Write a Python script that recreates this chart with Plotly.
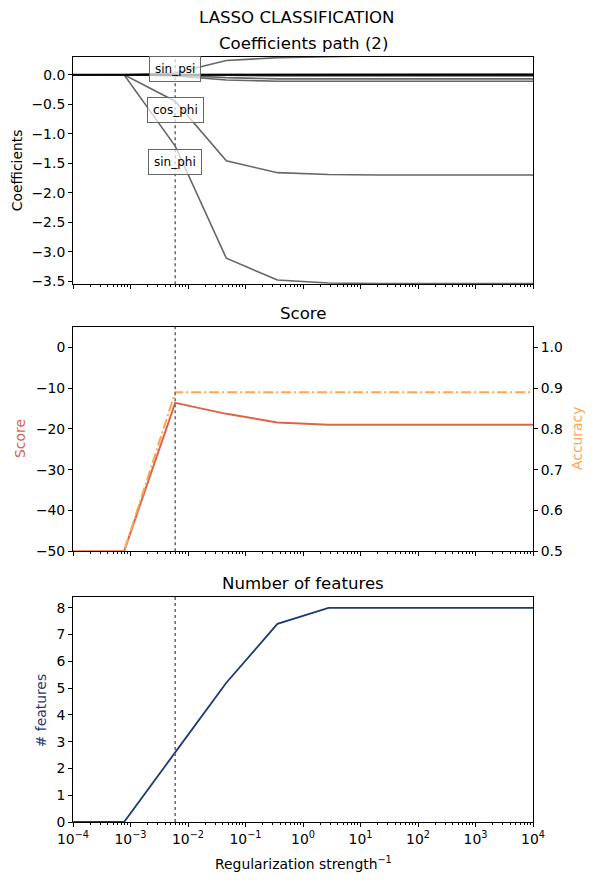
import numpy as np
import plotly.graph_objects as go
from plotly.subplots import make_subplots

# inverse regularization strengths (C) of the path
c_values = [1e-4, 7.74e-4, 5.99e-3, 4.64e-2, 0.359, 2.78, 21.5, 167.0, 1292.0, 1e4]
best_idx = 2

# coefficient paths, one per feature
coef_names = ["sin_phi", "cos_phi", "sin_psi", "cos_psi", "sin_chi", "cos_chi", "sin_omega", "cos_omega"]
coef_paths = [
    [0, 0, -1.21, -3.11, -3.48, -3.53, -3.54, -3.54, -3.54, -3.54],
    [0, 0, -0.45, -1.46, -1.66, -1.69, -1.70, -1.70, -1.70, -1.70],
    [0, 0, 0.03, 0.24, 0.29, 0.31, 0.32, 0.32, 0.32, 0.32],
    [0, 0, -0.02, -0.09, -0.11, -0.11, -0.11, -0.11, -0.11, -0.11],
    [0, 0, -0.01, -0.05, -0.07, -0.07, -0.07, -0.07, -0.07, -0.07],
    [0, 0, 0.0, -0.01, -0.02, -0.02, -0.02, -0.02, -0.02, -0.02],
    [0, 0, 0.0, 0.0, 0.01, 0.01, 0.01, 0.01, 0.01, 0.01],
    [0, 0, 0.0, 0.0, 0.0, -0.01, -0.01, -0.01, -0.01, -0.01],
]
# labelled features and where their labels sit
label_names = ["sin_psi", "cos_phi", "sin_phi"]
label_y = [0.09, -0.59, -1.48]

# CV score and accuracy
score = [-50, -50, -13.6, -16.3, -18.4, -19.0, -19.0, -19.0, -19.0, -19.0]
accuracy = [0.5, 0.5, 0.89, 0.89, 0.89, 0.89, 0.89, 0.89, 0.89, 0.89]

# number of non-zero features
n_features = [0, 0, 2.6, 5.2, 7.4, 8.0, 8.0, 8.0, 8.0, 8.0]

tick_vals = [1e-4, 1e-3, 1e-2, 1e-1, 1e0, 1e1, 1e2, 1e3, 1e4]
tick_text = ["10<sup>\u22124</sup>", "10<sup>\u22123</sup>", "10<sup>\u22122</sup>", "10<sup>\u22121</sup>",
             "10<sup>0</sup>", "10<sup>1</sup>", "10<sup>2</sup>", "10<sup>3</sup>", "10<sup>4</sup>"]

GRAY = "rgba(64,64,64,0.8)"
SCORE_C = "#dc6449"
ACC_C = "#ffa552"
FEAT_C = "#1f3a72"
FONT = "DejaVu Sans"
FS = 13.9
TITLE_FS = 16.6

best_c = c_values[best_idx]

fig = make_subplots(rows=3, cols=1, shared_xaxes=True,
                    specs=[[{}], [{"secondary_y": True}], [{}]])

for name, path in zip(coef_names, coef_paths):
    fig.add_trace(go.Scatter(x=c_values, y=path, mode="lines", name=name,
                             line=dict(color=GRAY, width=1.6)), row=1, col=1)

fig.add_trace(go.Scatter(x=c_values, y=score, mode="lines", name="Score",
                         line=dict(color=SCORE_C, width=2)), row=2, col=1, secondary_y=False)
fig.add_trace(go.Scatter(x=c_values, y=accuracy, mode="lines", name="Accuracy",
                         line=dict(color=ACC_C, width=2, dash="10px,3px,2px,3px")),
              row=2, col=1, secondary_y=True)

fig.add_trace(go.Scatter(x=c_values, y=n_features, mode="lines", name="# features",
                         line=dict(color=FEAT_C, width=1.8)), row=3, col=1)

# zero line in the coefficient panel
fig.add_shape(type="line", xref="x domain", yref="y", x0=0, x1=1, y0=0, y1=0,
              line=dict(color="black", width=2))

# best C marker on every panel
for xr, yr in [("x", "y domain"), ("x2", "y2 domain"), ("x3", "y4 domain")]:
    fig.add_shape(type="line", xref=xr, yref=yr, x0=best_c, x1=best_c, y0=0, y1=1,
                  line=dict(color="#707070", width=1.6, dash="dot"))

for name, ly in zip(label_names, label_y):
    fig.add_annotation(x=np.log10(best_c), y=ly, xref="x", yref="y", text=name,
                       showarrow=False, font=dict(size=12, color="black", family=FONT),
                       bgcolor="rgba(255,255,255,0.7)", bordercolor="#666666",
                       borderwidth=1, borderpad=5)

# titles
titles = [("LASSO CLASSIFICATION", 0.487, 1.052), ("Coefficients path (2)", 0.5, 1.017),
          ("Score", 0.5, 0.665), ("Number of features", 0.5, 0.312)]
for text, tx, ty in titles:
    fig.add_annotation(x=tx, y=ty, xref="paper", yref="paper", text=text, showarrow=False,
                       xanchor="center", yanchor="middle",
                       font=dict(size=TITLE_FS, color="black", family=FONT))

# axis titles
axis_titles = [("Coefficients", "black", -0.1217, 0.852), ("Score", SCORE_C, -0.1152, 0.5007),
               ("Accuracy", ACC_C, 1.0957, 0.5007), ("# features", FEAT_C, -0.0696, 0.146)]
for text, col, tx, ty in axis_titles:
    fig.add_annotation(x=tx, y=ty, xref="paper", yref="paper", text=text, showarrow=False,
                       textangle=-90, xanchor="center", yanchor="middle",
                       font=dict(size=FS, color=col, family=FONT))
fig.add_annotation(x=0.5, y=-0.0536, xref="paper", yref="paper",
                   text="Regularization strength<sup>\u22121</sup>", showarrow=False,
                   xanchor="center", yanchor="middle", font=dict(size=FS, color="black", family=FONT))

axis_common = dict(showline=True, linecolor="black", linewidth=1, mirror=True,
                   ticks="outside", ticklen=4, tickcolor="black", showgrid=False,
                   zeroline=False, automargin=False,
                   tickfont=dict(size=FS, color="black", family=FONT))

minor_vals = [m * 10.0 ** e for e in range(-4, 4) for m in range(2, 10)]
for i in [1, 2, 3]:
    fig.update_xaxes(type="log", range=[-4, 4], domain=[0, 1], tickmode="array", tickvals=tick_vals,
                     ticktext=tick_text, minor=dict(tickmode="array", tickvals=minor_vals,
                                                    ticks="outside", ticklen=2, tickcolor="black"),
                     **axis_common, row=i, col=1)

fig.update_yaxes(range=[-3.55, 0.30], dtick=0.5, tickformat=".1f", **axis_common, row=1, col=1)
fig.update_yaxes(range=[-50, 5], dtick=10, **axis_common, row=2, col=1, secondary_y=False)
fig.update_yaxes(range=[0.5, 1.05], dtick=0.1, tickformat=".1f",
                 **axis_common, row=2, col=1, secondary_y=True)
fig.update_yaxes(range=[0, 8.4], dtick=1, **axis_common, row=3, col=1)

fig.update_layout(
    width=594, height=887,
    margin=dict(l=65, r=69, t=49, b=73),
    plot_bgcolor="white", paper_bgcolor="white",
    showlegend=False,
    font=dict(family=FONT, color="black"),
    yaxis=dict(domain=[0.703, 1.0]),
    yaxis2=dict(domain=[0.354, 0.647]),
    yaxis3=dict(domain=[0.354, 0.647]),
    yaxis4=dict(domain=[0.0, 0.294]),
)

fig.write_html("out.html")
